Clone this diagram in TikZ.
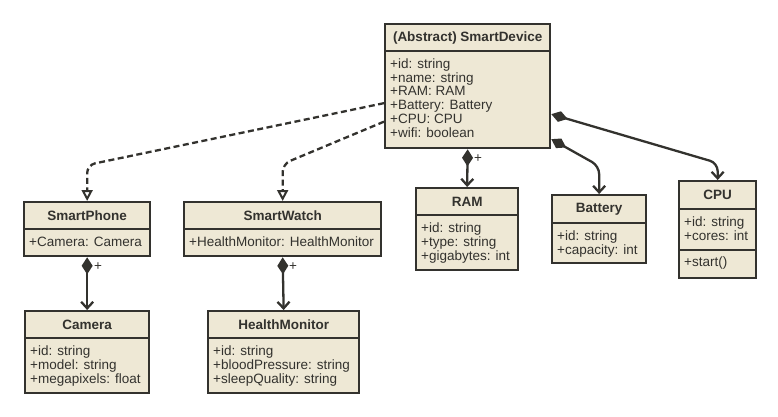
\documentclass[tikz,border=0pt]{standalone}
\usepackage{fontspec}
\setmainfont{Liberation Sans}
\usetikzlibrary{arrows.meta}
\definecolor{umlfill}{HTML}{EEE8D5}
\definecolor{umlline}{HTML}{33322E}
\newcommand{\mlines}[1]{\begin{tabular}[t]{@{}l@{}}#1\end{tabular}}
\tikzset{
  base/.style={draw=umlline, line width=2.3pt, fill=umlfill, inner sep=0pt, anchor=north west},
  hdr/.style={base, font=\fontsize{13.5}{13.6}\selectfont\bfseries, text=umlline},
  cbody/.style={base},
  btxt/.style={anchor=base west, inner sep=0pt, text=umlline, font=\fontsize{13.5}{13.6}\selectfont},
  conn/.style={draw=umlline, line width=2.3pt, rounded corners=8pt},
  comp/.style={conn, {Diamond[length=17pt,width=11pt]}-{Straight Barb[length=6.5pt,width=12pt]}},
  inh/.style={conn, dash pattern=on 6pt off 3.5pt, -{Triangle[open,length=11pt,width=11pt,fill=white,line width=2pt]}},
  plus/.style={inner sep=0pt, text=umlline, font=\fontsize{13.5}{13.5}\selectfont}
}
\begin{document}
\begin{tikzpicture}[x=1pt,y=-1pt]
\useasboundingbox (0,0) rectangle (778,416);

% SmartDevice
\node[hdr, minimum width=165pt, minimum height=27pt] (sd-h) at (384,23) {(Abstract) SmartDevice};
\node[cbody, minimum width=165pt, minimum height=97pt] (sd-b) at (384,50) {};
\node[btxt] (sd-t) at (390,68.5) {\mlines{+id: string\\+name: string\\+RAM: RAM\\+Battery: Battery\\+CPU: CPU\\+wifi: boolean}};

% SmartPhone
\node[hdr, minimum width=126pt, minimum height=27pt] (sp-h) at (23,201) {SmartPhone};
\node[cbody, minimum width=126pt, minimum height=27pt] (sp-b) at (23,228) {};
\node[btxt] (sp-t) at (29,246.5) {+Camera: Camera};

% SmartWatch
\node[hdr, minimum width=197pt, minimum height=27pt] (sw-h) at (183,201) {SmartWatch};
\node[cbody, minimum width=197pt, minimum height=27pt] (sw-b) at (183,228) {};
\node[btxt] (sw-t) at (189,246.5) {+HealthMonitor: HealthMonitor};

% RAM
\node[hdr, minimum width=102pt, minimum height=27pt] (ram-h) at (415,187) {RAM};
\node[cbody, minimum width=102pt, minimum height=55pt] (ram-b) at (415,214) {};
\node[btxt] (ram-t) at (421,232.3) {\mlines{+id: string\\+type: string\\+gigabytes: int}};

% Battery
\node[hdr, minimum width=94pt, minimum height=28pt] (bat-h) at (551,194) {Battery};
\node[cbody, minimum width=94pt, minimum height=40pt] (bat-b) at (551,222) {};
\node[btxt] (bat-t) at (557,240.3) {\mlines{+id: string\\+capacity: int}};

% CPU
\node[hdr, minimum width=77pt, minimum height=28pt] (cpu-h) at (678,180) {CPU};
\node[cbody, minimum width=77pt, minimum height=41pt] (cpu-b) at (678,208) {};
\node[btxt] (cpu-t) at (684,226.3) {\mlines{+id: string\\+cores: int}};
\node[cbody, minimum width=77pt, minimum height=28pt] (cpu-m) at (678,249) {};
\node[btxt] (cpu-mt) at (684,266.8) {+start()};

% Camera
\node[hdr, minimum width=124pt, minimum height=27pt] (cam-h) at (24,310) {Camera};
\node[cbody, minimum width=124pt, minimum height=55pt] (cam-b) at (24,337) {};
\node[btxt] (cam-t) at (30,355.3) {\mlines{+id: string\\+model: string\\+megapixels: float}};

% HealthMonitor
\node[hdr, minimum width=151pt, minimum height=27pt] (hm-h) at (207,310) {HealthMonitor};
\node[cbody, minimum width=151pt, minimum height=55pt] (hm-b) at (207,337) {};
\node[btxt] (hm-t) at (213,355.3) {\mlines{+id: string\\+bloodPressure: string\\+sleepQuality: string}};

% inheritance
\draw[inh] ([yshift=-3.5pt]sd-b.west) -- (sp-h.north |- 0,165) -- (sp-h.north);
\draw[inh] ([yshift=-22pt]sd-b.west) -- (sw-h.north |- 0,164) -- (sw-h.north);

% compositions
\draw[comp] (sd-b.south) -- (ram-h.north);
\node[plus] (p-ram) at (478,159) {+};
\draw[comp] ([yshift=-39.5pt]sd-b.east) -- (bat-h.north |- 0,166) -- (bat-h.north);
\draw[comp] ([yshift=-14.5pt]sd-b.east) -- (cpu-h.north |- 0,163) -- (cpu-h.north);
\draw[comp] (sp-b.south) -- (cam-h.north);
\node[plus] (p-cam) at (98,267) {+};
\draw[comp] (sw-b.south) -- (hm-h.north);
\node[plus] (p-hm) at (293,267) {+};
\end{tikzpicture}
\end{document}
